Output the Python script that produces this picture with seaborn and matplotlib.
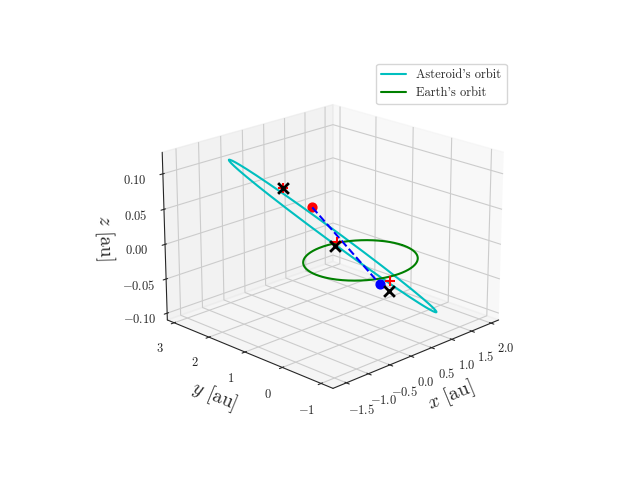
import numpy as np
import matplotlib
matplotlib.use("Agg")
import matplotlib.pyplot as plt
import seaborn as sns

sns.set_style("white")
plt.rcParams.update({"font.family": "serif", "font.serif": ["cmr10"], "mathtext.fontset": "cm",
                     "axes.formatter.use_mathtext": True, "axes.unicode_minus": True})

# asteroid orbit ellipse: center, semi-axis vectors (au)
ast_center = [0.4, 1.15, 0.003]
ast_major = [-1.2, 1.45, 0.108]
ast_minor = [0.22, 0.2, 0.0]
earth_radius = 1.0
# markers
red_dots = [[0.15, 1.45, 0.045]]
blue_dots = [[0.55, 0.1, -0.048]]
black_x = [[-0.22, 1.82, 0.074], [0.15, 0.85, 0.0], [0.7, 0.0, -0.06]]
red_plus = [[-0.22, 1.82, 0.074], [0.2, 0.85, 0.005], [0.75, 0.05, -0.048]]

fig = plt.figure(figsize=(6.4, 4.8), dpi=100)
ax = fig.add_subplot(projection="3d")
t = np.linspace(0, 2*np.pi, 300)
c, u, v = map(np.array, (ast_center, ast_major, ast_minor))
P = c[:, None] + u[:, None]*np.cos(t) + v[:, None]*np.sin(t)
ax.plot(P[0], P[1], P[2], color="c", label="Asteroid's orbit")
ax.plot(earth_radius*np.cos(t), earth_radius*np.sin(t), 0*t, color="g", label="Earth's orbit")
r, b = red_dots[0], blue_dots[0]
ax.plot([r[0], b[0]], [r[1], b[1]], [r[2], b[2]], "b--")
ax.scatter(*np.array(red_dots).T, color="r", s=40, depthshade=False)
ax.scatter(*np.array(blue_dots).T, color="b", s=40, depthshade=False)
ax.scatter(*np.array(black_x).T, color="k", marker="x", s=60, linewidths=2, depthshade=False)
ax.scatter(*np.array(red_plus).T, color="r", marker="+", s=60, linewidths=1.5, depthshade=False)
ax.set_xlim(-1.8, 2.2); ax.set_ylim(-1.3, 3.2); ax.set_zlim(-0.11, 0.13)
ax.set_xticks([-1.5, -1.0, -0.5, 0.0, 0.5, 1.0, 1.5, 2.0])
ax.set_yticks([-1, 0, 1, 2, 3])
ax.set_zticks([-0.10, -0.05, 0.0, 0.05, 0.10])
ax.tick_params(labelsize=9)
ax.set_xlabel(r"$x$ [au]", fontsize=14)
ax.set_ylabel(r"$y$ [au]", fontsize=14)
ax.set_zlabel(r"$z$ [au]", fontsize=14)
ax.view_init(elev=20, azim=-135)
ax.legend(loc="upper right", fontsize=9)
fig.savefig("out.png", dpi=100)
